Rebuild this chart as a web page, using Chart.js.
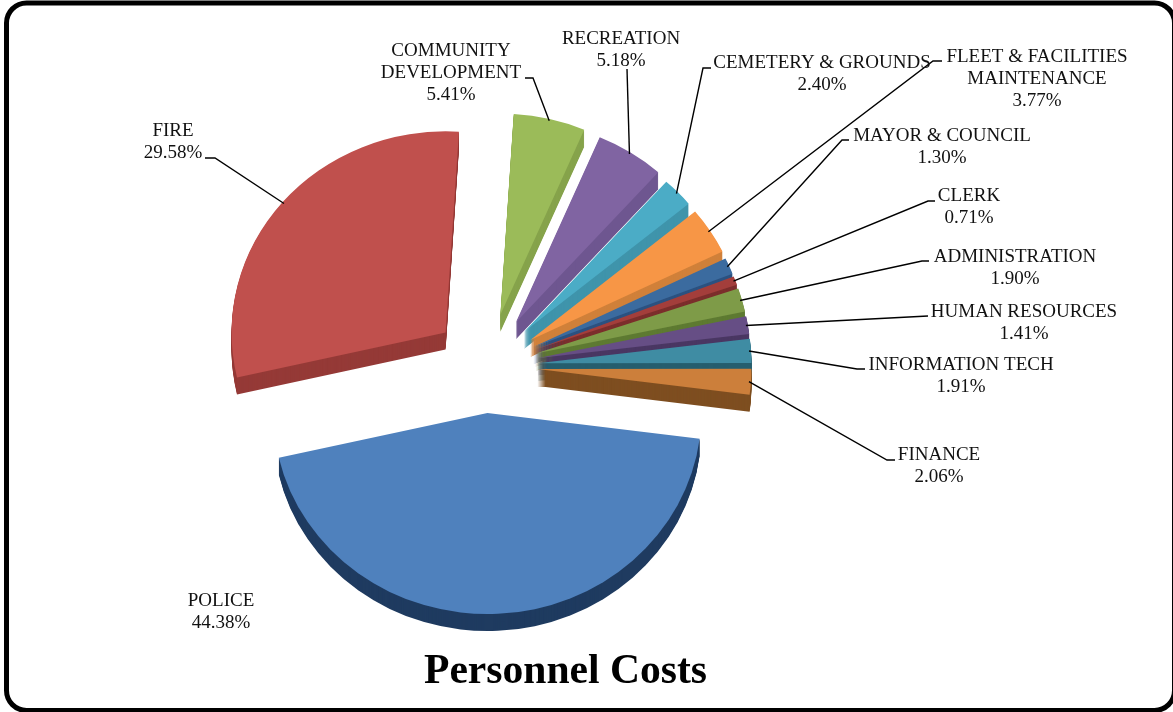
<!DOCTYPE html>
<html>
<head>
<meta charset="utf-8">
<title>Personnel Costs</title>
<script src="https://cdn.jsdelivr.net/npm/chart.js@4/dist/chart.umd.min.js"></script>
<style>
  html, body { margin: 0; padding: 0; background: #fff; overflow: hidden; }
  canvas { display: block; }
</style>
</head>
<body>
<canvas id="costs" width="1173" height="712"></canvas>
<script>
// Department names, clockwise from the Fire slice; each entry is one label with its lines.
const departments = [
  ['FIRE'],
  ['COMMUNITY', 'DEVELOPMENT'],
  ['RECREATION'],
  ['CEMETERY & GROUNDS'],
  ['FLEET & FACILITIES', 'MAINTENANCE'],
  ['MAYOR & COUNCIL'],
  ['CLERK'],
  ['ADMINISTRATION'],
  ['HUMAN RESOURCES'],
  ['INFORMATION TECH'],
  ['FINANCE'],
  ['POLICE']
];

// Share of personnel costs, percent.
const shares = [29.58, 5.41, 5.18, 2.40, 3.77, 1.30, 0.71, 1.90, 1.41, 1.91, 2.06, 44.38];

const topColors  = ['#C0504D', '#9BBB59', '#8064A2', '#4BACC6', '#F79646', '#3B6B9F', '#A33E3B', '#7E9B48', '#664E85', '#3F8CA3', '#CC7F3B', '#4F81BD'];
const wallColors = ['#953A37', '#86A34B', '#6E5690', '#3F94AB', '#D0803A', '#2C5280', '#7C2E2C', '#5E7A32', '#4A3763', '#265E6E', '#7E4E20', '#1F3B60'];

// How far each slice is pulled out of the pie, and its sideways drift from the view angle, in pixels.
const explode = [55, 56, 55, 52, 51, 50, 50, 50, 50, 50, 50, 50];
const sideDrift = [0, 0, -1, -1, 0, 0, 0, 0, 0, 0, 0, -2.5];

// Label placement: centre x and first baseline, then the leader's free end and elbow.
const labelPlacement = [
  { x: 173,  y: 136, line: [[205, 158], [215, 158]] },
  { x: 451,  y: 56,  line: [[525, 78],  [533, 78]] },
  { x: 621,  y: 44,  line: [[627, 69]] },
  { x: 822,  y: 68,  line: [[711, 68],  [703, 68]] },
  { x: 1037, y: 62,  line: [[942, 61],  [933, 61]] },
  { x: 942,  y: 141, line: [[849, 140], [842, 140]] },
  { x: 969,  y: 201, line: [[935, 201], [928, 201]] },
  { x: 1015, y: 262, line: [[929, 261], [922, 261]] },
  { x: 1024, y: 317, line: [[928, 316]] },
  { x: 961,  y: 370, line: [[865, 369], [857, 369]] },
  { x: 939,  y: 460, line: [[895, 460], [887, 460]] },
  { x: 221,  y: 606, line: [] }
];

const TILT = 0.94;        // vertical squash of the pie disc
const DEPTH = 17;         // height of the slice walls
const RADIUS = 214;
const START_DEG = 257.1;  // Chart.js rotation: where the Fire slice begins
const LINE_HEIGHT = 22;
const SERIF = '"Liberation Serif", "Times New Roman", serif';

// Draws one arc element pulled out along its mid angle, squashed and lowered.
function paintArc(ctx, arc, index, drop, color) {
  const mid = (arc.startAngle + arc.endAngle) / 2;
  const saved = arc.options;
  arc.options = {
    backgroundColor: color, borderColor: color, borderWidth: 0, borderAlign: 'center',
    borderJoinStyle: 'round', borderRadius: 0, borderDash: [], borderDashOffset: 0,
    offset: 0, spacing: 0, circular: true, selfJoin: false
  };
  ctx.save();
  ctx.translate(sideDrift[index], arc.y + drop);
  ctx.scale(1, TILT);
  ctx.translate(0, -arc.y);
  ctx.translate(Math.cos(mid) * explode[index], Math.sin(mid) * explode[index]);
  arc.draw(ctx);
  ctx.restore();
  arc.options = saved;
}

const solidPie = {
  id: 'solidPie',
  beforeDatasetDraw(chart, args) {
    const ctx = chart.ctx;
    const arcs = args.meta.data;
    // Walls first, then the top faces so each face covers its neighbour's wall.
    arcs.forEach((arc, i) => {
      for (let d = DEPTH; d >= 1; d--) paintArc(ctx, arc, i, d, wallColors[i]);
    });
    arcs.forEach((arc, i) => paintArc(ctx, arc, i, 0, topColors[i]));
    return false;
  }
};

const frameAndText = {
  id: 'frameAndText',
  beforeDraw(chart) {
    const ctx = chart.ctx;
    ctx.save();
    ctx.fillStyle = '#fff';
    ctx.fillRect(0, 0, chart.width, chart.height);
    ctx.lineWidth = 5;
    ctx.strokeStyle = '#000';
    ctx.beginPath();
    ctx.roundRect(6.5, 3, 1168, 707.5, 20);
    ctx.stroke();
    ctx.restore();
  },
  afterDatasetsDraw(chart) {
    const ctx = chart.ctx;
    const arcs = chart.getDatasetMeta(0).data;
    ctx.save();
    // Leader lines run from the middle of each slice's rim to the label.
    ctx.strokeStyle = '#000';
    ctx.lineWidth = 1.4;
    labelPlacement.forEach((place, i) => {
      if (!place.line.length) return;
      const arc = arcs[i];
      const mid = (arc.startAngle + arc.endAngle) / 2;
      const reach = explode[i] + arc.outerRadius - 2;
      ctx.beginPath();
      place.line.forEach(([px, py], k) => k ? ctx.lineTo(px, py) : ctx.moveTo(px, py));
      ctx.lineTo(arc.x + sideDrift[i] + Math.cos(mid) * reach, arc.y + Math.sin(mid) * reach * TILT);
      ctx.stroke();
    });
    // Department name and its share.
    ctx.fillStyle = '#111';
    ctx.font = '19px ' + SERIF;
    ctx.textAlign = 'center';
    ctx.textBaseline = 'alphabetic';
    labelPlacement.forEach((place, i) => {
      const lines = departments[i].concat(shares[i].toFixed(2) + '%');
      lines.forEach((text, k) => ctx.fillText(text, place.x, place.y + k * LINE_HEIGHT));
    });
    // Chart heading.
    ctx.fillStyle = '#000';
    ctx.font = 'bold 41.6px ' + SERIF;
    ctx.fillText('Personnel Costs', 565.5, 683);
    ctx.restore();
  }
};

new Chart(document.getElementById('costs'), {
  type: 'pie',
  data: {
    labels: departments.map(lines => lines.join(' ')),
    datasets: [{ data: shares, backgroundColor: topColors, borderWidth: 0 }]
  },
  options: {
    responsive: false,
    animation: false,
    events: [],
    rotation: START_DEG,
    radius: RADIUS,
    layout: { padding: { left: 0, right: 198, top: 20, bottom: 0 } },
    plugins: { legend: { display: false }, tooltip: { enabled: false }, title: { display: false } }
  },
  plugins: [solidPie, frameAndText]
});
</script>
</body>
</html>
